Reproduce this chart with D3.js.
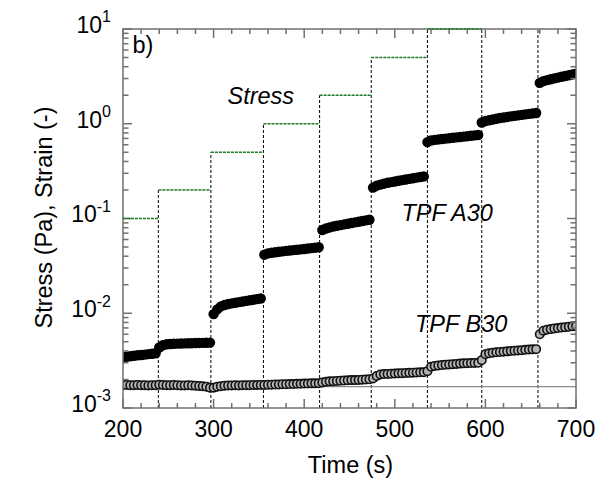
<!DOCTYPE html>
<html>
<head>
<meta charset="utf-8">
<script src="https://cdn.jsdelivr.net/npm/d3@7"></script>
<style>
  body { margin: 0; background: #fff; }
  text { font-family: "Liberation Sans", Arial, sans-serif; fill: #000; }
</style>
</head>
<body>
<svg id="chart" width="600" height="482"></svg>
<script>
// Creep test: sampling times (s)
const timeS = [
  200,204,208,212,216,220,224,228,232,236,
  240,244,248,252,256,260,264,268,272,276,280,284,288,292,296,
  300,304,308,312,316,320,324,328,332,336,340,344,348,352,
  356,360,364,368,372,376,380,384,388,392,396,400,404,408,412,416,
  420,424,428,432,436,440,444,448,452,456,460,464,468,472,
  476,480,484,488,492,496,500,504,508,512,516,520,524,528,532,
  536,540,544,548,552,556,560,564,568,572,576,580,584,588,592,
  596,600,604,608,612,616,620,624,628,632,636,640,644,648,652,656,
  660,664,668,672,676,680,684,688,692,696,700
];

// Strain of sample TPF A30 (-)
const strainA30 = [
  0.00340,0.00348,0.00352,0.00356,0.00360,0.00363,0.00366,0.00370,0.00374,0.00378,
  0.00435,0.00460,0.00470,0.00474,0.00476,0.00478,0.00480,0.00481,0.00482,0.00483,0.00485,0.00486,0.00487,0.00488,0.00490,
  0.0098,0.0110,0.0118,0.0122,0.0125,0.0127,0.0129,0.0131,0.0133,0.0135,0.0137,0.0139,0.0141,0.0143,
  0.0415,0.0428,0.0435,0.0440,0.0445,0.0450,0.0455,0.0460,0.0464,0.0468,0.0472,0.0477,0.0482,0.0487,0.0492,0.0497,
  0.0755,0.0785,0.0805,0.0822,0.0838,0.0852,0.0866,0.0880,0.0895,0.0910,0.0925,0.0940,0.0955,0.0970,
  0.212,0.222,0.228,0.233,0.238,0.242,0.246,0.250,0.254,0.258,0.262,0.266,0.270,0.274,0.278,
  0.640,0.665,0.675,0.683,0.690,0.697,0.704,0.711,0.718,0.725,0.732,0.739,0.746,0.753,0.760,
  1.03,1.07,1.09,1.11,1.13,1.15,1.165,1.18,1.195,1.21,1.225,1.24,1.255,1.27,1.285,1.30,
  2.70,2.82,2.89,2.95,3.01,3.07,3.13,3.19,3.25,3.31,3.37
];

// Strain of sample TPF B30 (-)
const strainB30 = [
  0.00175,0.00175,0.00174,0.00174,0.00175,0.00174,0.00174,0.00173,0.00174,0.00174,
  0.00176,0.00175,0.00174,0.00174,0.00175,0.00174,0.00173,0.00173,0.00174,0.00173,0.00172,0.00171,0.00170,0.00168,0.00164,
  0.00164,0.00168,0.00170,0.00172,0.00173,0.00173,0.00174,0.00173,0.00174,0.00174,0.00174,0.00175,0.00175,0.00175,
  0.00175,0.00176,0.00176,0.00177,0.00177,0.00178,0.00178,0.00179,0.00179,0.00180,0.00180,0.00181,0.00181,0.00182,0.00182,0.00183,
  0.00186,0.00189,0.00191,0.00192,0.00193,0.00194,0.00195,0.00196,0.00197,0.00197,0.00198,0.00199,0.00200,0.00201,
  0.00205,0.00218,0.00226,0.00228,0.00229,0.00230,0.00231,0.00232,0.00233,0.00234,0.00235,0.00236,0.00237,0.00238,0.00239,
  0.00245,0.00272,0.00278,0.00281,0.00284,0.00286,0.00288,0.00290,0.00292,0.00294,0.00296,0.00297,0.00298,0.00299,0.00300,
  0.00320,0.00370,0.00378,0.00383,0.00387,0.00390,0.00393,0.00396,0.00399,0.00402,0.00405,0.00408,0.00411,0.00414,0.00416,0.00418,
  0.00600,0.00655,0.00670,0.00680,0.00690,0.00698,0.00706,0.00713,0.00720,0.00727,0.00733
];

// Applied stress programme: step start times (s) and levels (Pa)
const stepStart = [200, 239, 297, 355, 417, 474, 536, 596, 658];
const stressLevel = [0.1, 0.2, 0.5, 1, 2, 5, 10, 20, 50];
const timeEnd = 700;

// Horizontal reference strain level
const refStrain = 1.68e-3;

// Axis ticks
const xMajor = [200, 300, 400, 500, 600, 700];
const xMinor = [220,240,260,280,320,340,360,380,420,440,460,480,520,540,560,580,620,640,660,680];
const yExp = [1, 0, -1, -2, -3];
const yLabelText = ["1", "0", "-1", "-2", "-3"];

const svg = d3.select("#chart");
const L = 123, R = 576, T = 29, B = 408;

const x = d3.scaleLinear().domain([200, 700]).range([L, R]);
const y = d3.scaleLog().domain([1e-3, 10]).range([B, T]);

svg.append("defs").append("clipPath").attr("id", "plotClip")
  .append("rect").attr("x", L).attr("y", T - 2).attr("width", R - L).attr("height", B - T + 2);

const plot = svg.append("g").attr("clip-path", "url(#plotClip)");

const steps = stepStart.map((t, i) => ({
  t0: t, t1: i < stepStart.length - 1 ? stepStart[i + 1] : timeEnd, s: stressLevel[i]
}));

// Dashed markers at each stress change
plot.append("g").selectAll("line").data(steps.slice(1)).join("line")
  .attr("x1", d => x(d.t0)).attr("x2", d => x(d.t0))
  .attr("y1", y(1e-3)).attr("y2", d => y(Math.min(d.s, 10)))
  .attr("stroke", "#000").attr("stroke-width", 1).attr("stroke-dasharray", "3,2");

// Reference strain line
plot.append("line")
  .attr("x1", x(200)).attr("x2", x(700))
  .attr("y1", y(refStrain)).attr("y2", y(refStrain))
  .attr("stroke", "#8a8a8a").attr("stroke-width", 1.2);

// TPF B30: open circles
plot.append("g").selectAll("circle").data(timeS.map((t, i) => [t, strainB30[i]])).join("circle")
  .attr("cx", d => x(d[0])).attr("cy", d => y(d[1])).attr("r", 4.2)
  .attr("fill", "#b4b4b4").attr("stroke", "#111").attr("stroke-width", 1.6);

// TPF A30: filled circles
plot.append("g").selectAll("circle").data(timeS.map((t, i) => [t, strainA30[i]])).join("circle")
  .attr("cx", d => x(d[0])).attr("cy", d => y(d[1])).attr("r", 5.2)
  .attr("fill", "#000");

// Frame and ticks
const axisColor = "#707070";
const frame = svg.append("g").attr("stroke", axisColor).attr("stroke-width", 1.5).attr("fill", "none");
frame.append("rect").attr("x", L).attr("y", T).attr("width", R - L).attr("height", B - T);

function xTicks(vals, len) {
  frame.append("g").selectAll("line.b").data(vals).join("line")
    .attr("x1", d => x(d)).attr("x2", d => x(d)).attr("y1", B).attr("y2", B - len);
  frame.append("g").selectAll("line.t").data(vals).join("line")
    .attr("x1", d => x(d)).attr("x2", d => x(d)).attr("y1", T).attr("y2", T + len);
}
xTicks(xMajor, 9);
xTicks(xMinor, 5);

const yMajorVals = yExp.map(e => Math.pow(10, e));
const yMinorVals = [];
for (const e of [-3, -2, -1, 0]) for (const m of [2,3,4,5,6,7,8,9]) yMinorVals.push(m * Math.pow(10, e));
function yTicks(vals, len) {
  frame.append("g").selectAll("line.l").data(vals).join("line")
    .attr("x1", L).attr("x2", L + len).attr("y1", d => y(d)).attr("y2", d => y(d));
  frame.append("g").selectAll("line.r").data(vals).join("line")
    .attr("x1", R).attr("x2", R - len).attr("y1", d => y(d)).attr("y2", d => y(d));
}
yTicks(yMajorVals, 9);
yTicks(yMinorVals, 5.5);

// Stress steps (green), drawn above the frame so the top level stays visible
svg.append("g").attr("clip-path", "url(#plotClip)")
  .selectAll("line").data(steps.filter(d => d.s <= 10)).join("line")
  .attr("x1", d => x(d.t0)).attr("x2", d => x(d.t1))
  .attr("y1", d => y(d.s)).attr("y2", d => y(d.s))
  .attr("stroke", "#1d7a26")
  .attr("stroke-width", 1.5)
  .attr("stroke-dasharray", "3,1");

// Tick labels
svg.append("g").selectAll("text").data(xMajor).join("text")
  .attr("x", d => x(d)).attr("y", B + 29.3)
  .attr("text-anchor", "middle").attr("font-size", 23).text(d => d);

const yl = svg.append("g").selectAll("text").data(yExp).join("text")
  .attr("x", 111).attr("y", d => y(Math.pow(10, d)) + 3.8)
  .attr("text-anchor", "end").attr("font-size", 23);
yl.append("tspan").text("10");
yl.append("tspan").attr("dy", -10.5).attr("font-size", 16).text((d, i) => yLabelText[i]);

// Axis titles
svg.append("text").attr("x", (L + R) / 2 + 1).attr("y", 472.5)
  .attr("text-anchor", "middle").attr("font-size", 23.5).text("Time (s)");
svg.append("text").attr("transform", "translate(52,217.5) rotate(-90)")
  .attr("text-anchor", "middle").attr("font-size", 23.5).text("Stress (Pa), Strain (-)");

// Annotations
svg.append("text").attr("x", 132.5).attr("y", 52.5).attr("font-size", 23.5).text("b)");
svg.append("text").attr("x", 227.5).attr("y", 104).attr("font-size", 23.5)
  .attr("font-style", "italic").text("Stress");
svg.append("text").attr("x", 401.5).attr("y", 221).attr("font-size", 23.5)
  .attr("font-style", "italic").text("TPF A30");
svg.append("text").attr("x", 415).attr("y", 332.3).attr("font-size", 23.5)
  .attr("font-style", "italic").text("TPF B30");
</script>
</body>
</html>
